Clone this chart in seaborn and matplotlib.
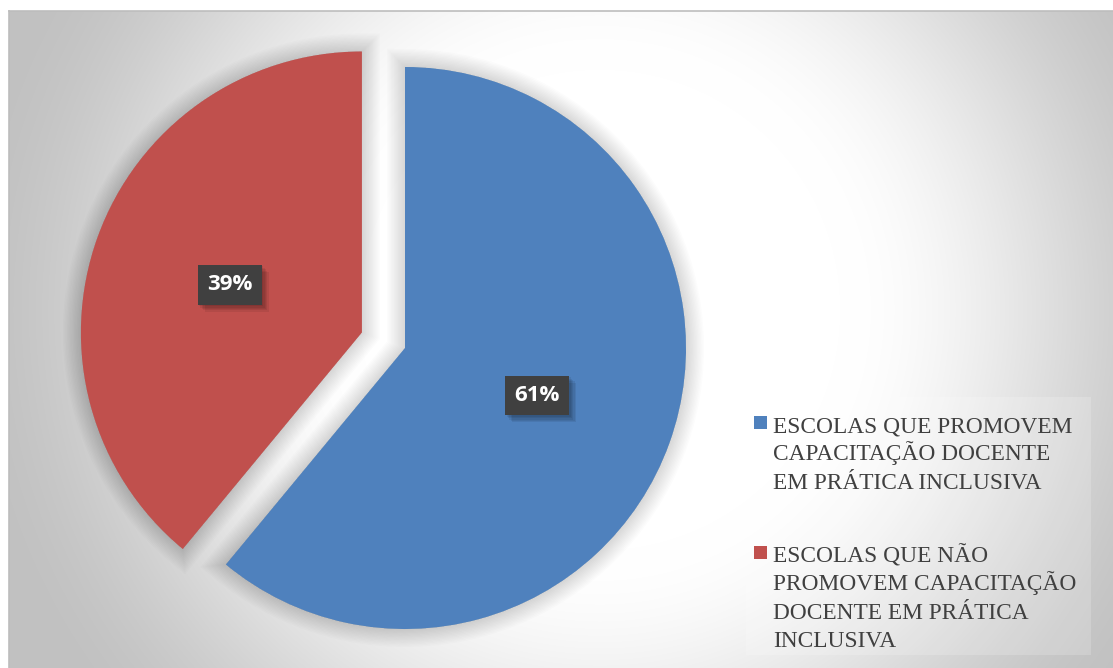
import numpy as np
import matplotlib
matplotlib.use("Agg")
import matplotlib.pyplot as plt
import matplotlib.patheffects as pe
from matplotlib.patches import Rectangle
import seaborn as sns

# Survey result: schools that do / do not offer teacher training in inclusive practice
categories = [
    "ESCOLAS QUE PROMOVEM\nCAPACITAÇÃO DOCENTE\nEM PRÁTICA INCLUSIVA",
    "ESCOLAS QUE NÃO\nPROMOVEM CAPACITAÇÃO\nDOCENTE EM PRÁTICA\nINCLUSIVA",
]
shares = [61, 39]
colors = ["#4F81BD", "#C0504D"]
explode = [0.0, 0.163]

sns.set_theme(style="white")

W, H, DPI = 1113, 668, 100
fig = plt.figure(figsize=(W / DPI, H / DPI), dpi=DPI, facecolor="white")


def px_box(x0, y0, x1, y1):
    """Pixel box (top-down) -> figure-fraction rect."""
    return [x0 / W, 1 - y1 / H, (x1 - x0) / W, (y1 - y0) / H]


# ---- chart area with a soft radial gradient ----
bg = fig.add_axes(px_box(9, 11, W, H))
yy, xx = np.mgrid[11:H, 9:W] + 0.5
dist = np.hypot(xx - 600, yy - 310)
t = np.clip((dist - 240) / 410, 0, 1)
shade = (255 - 62 * t * t * (3 - 2 * t)) / 255
bg.imshow(np.dstack([shade] * 3), aspect="auto", extent=[0, 1, 0, 1],
          interpolation="bilinear")
bg.set_xlim(0, 1)
bg.set_ylim(0, 1)
bg.set_xticks([])
bg.set_yticks([])
for side, sp in bg.spines.items():
    sp.set_visible(side in ("top", "left"))
    sp.set_color("#bdbdbd")
    sp.set_linewidth(1.2)

# ---- pie ----
R = 281
cx, cy = 405, 348
half = 320
ax = fig.add_axes(px_box(cx - half, cy - half, cx + half, cy + half))
wedges, _, autotexts = ax.pie(
    shares,
    colors=colors,
    explode=explode,
    startangle=90,
    counterclock=False,
    autopct=lambda p: f"{p:.0f}%",
    pctdistance=0.5,
    radius=1,
)
ax.set_xlim(-half / R, half / R)
ax.set_ylim(-half / R, half / R)
ax.set_axis_off()
ax.patch.set_alpha(0)

# soft glow-like shadow around each slice
soft_shadow = [pe.Stroke(linewidth=lw, foreground="black", alpha=0.011)
               for lw in np.arange(26, 1, -2)]
for w in wedges:
    w.set_linewidth(0)
    w.set_path_effects(soft_shadow + [pe.Normal()])

for txt in autotexts:
    txt.set_color("white")
    txt.set_fontweight("bold")
    txt.set_fontfamily("Open Sans")
    txt.set_fontsize(16)
    txt.set_bbox(dict(boxstyle="square,pad=0.42", fc="#404040", ec="none"))
    txt.get_bbox_patch().set_path_effects(
        [pe.SimplePatchShadow(offset=(o, -o), shadow_rgbFace="black", alpha=0.07)
         for o in (1, 2, 3, 4, 5)] + [pe.Normal()]
    )

# ---- legend ----
fig.add_artist(Rectangle((746 / W, 1 - 655 / H), (1091 - 746) / W, (655 - 397) / H,
                         transform=fig.transFigure, fc="white", ec="none",
                         alpha=0.18))
item_tops = [417, 547]
line_step = 28.4
for label, color, top in zip(categories, colors, item_tops):
    fig.add_artist(Rectangle((754 / W, 1 - (top + 12) / H), 13 / W, 13 / H,
                             transform=fig.transFigure, fc=color, ec="none"))
    for k, line in enumerate(label.split("\n")):
        baseline = top + 15 + k * line_step
        fig.text(773 / W, 1 - baseline / H, line, ha="left", va="baseline",
                 fontsize=16.8, family="Liberation Serif", color="#404040")

fig.savefig("out.png", dpi=DPI)
